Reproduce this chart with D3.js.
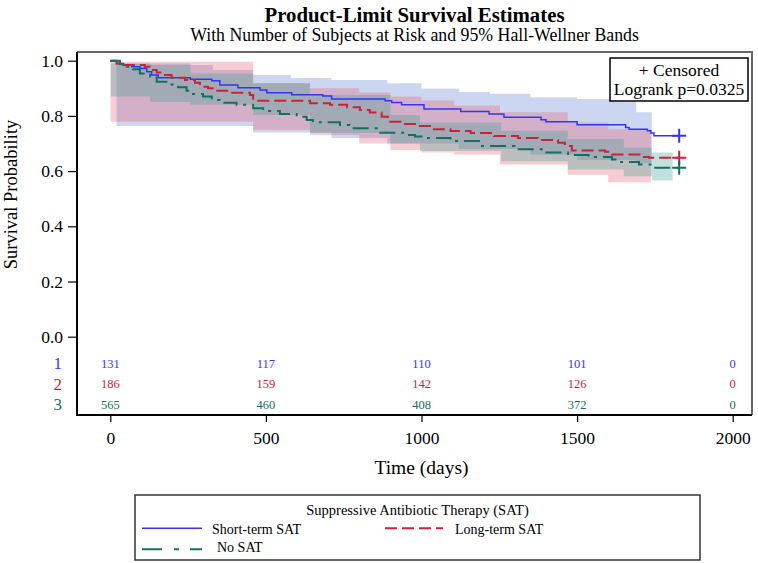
<!DOCTYPE html>
<html>
<head>
<meta charset="utf-8">
<script src="https://cdn.jsdelivr.net/npm/d3@7"></script>
<style>
  body { margin: 0; background: #fff; }
  svg { display: block; font-family: "Liberation Serif", "Times New Roman", serif; }
</style>
</head>
<body>
<div id="chart"></div>
<script>
'use strict';

// axis ticks and at-risk table
const tickX = [0, 500, 1000, 1500, 2000];
const tickY = [0, 0.2, 0.4, 0.6, 0.8, 1.0];
const riskTimes = [0, 500, 1000, 1500, 2000];
const riskShort = [131, 117, 110, 101, 0];
const riskLong = [186, 159, 142, 126, 0];
const riskNone = [565, 460, 408, 372, 0];

// Kaplan-Meier steps
const shortTime = [0, 20, 42, 69, 95, 117, 133, 154, 257, 326, 352, 410, 481, 503, 583, 683, 711, 883, 904, 936, 1008, 1126, 1217, 1265, 1384, 1400, 1500, 1656, 1667, 1726, 1737, 1747, 1828];
const shortSurv = [1, 0.99, 0.984, 0.978, 0.972, 0.96, 0.948, 0.938, 0.933, 0.927, 0.912, 0.902, 0.894, 0.884, 0.877, 0.872, 0.861, 0.855, 0.849, 0.84, 0.825, 0.816, 0.807, 0.795, 0.786, 0.779, 0.768, 0.758, 0.752, 0.746, 0.738, 0.728, 0.728];

const longTime = [0, 20, 41, 111, 128, 149, 165, 197, 240, 272, 288, 314, 336, 385, 449, 459, 642, 706, 761, 802, 834, 872, 892, 941, 979, 1027, 1093, 1158, 1233, 1310, 1374, 1439, 1461, 1483, 1590, 1612, 1709, 1731, 1828];
const longSurv = [1, 0.99, 0.984, 0.978, 0.966, 0.957, 0.948, 0.938, 0.93, 0.92, 0.906, 0.9, 0.891, 0.884, 0.876, 0.855, 0.846, 0.84, 0.831, 0.821, 0.812, 0.797, 0.779, 0.771, 0.763, 0.752, 0.745, 0.738, 0.727, 0.72, 0.713, 0.703, 0.691, 0.675, 0.67, 0.66, 0.651, 0.648, 0.648];

const noneTime = [0, 31, 53, 73, 95, 128, 149, 192, 218, 245, 266, 298, 326, 352, 406, 459, 491, 545, 599, 631, 651, 738, 770, 856, 941, 979, 1000, 1093, 1191, 1299, 1397, 1471, 1537, 1612, 1635, 1699, 1742, 1828];
const noneSurv = [1, 0.988, 0.978, 0.969, 0.954, 0.942, 0.924, 0.914, 0.904, 0.891, 0.879, 0.87, 0.858, 0.848, 0.84, 0.828, 0.818, 0.807, 0.797, 0.785, 0.777, 0.767, 0.755, 0.739, 0.731, 0.725, 0.72, 0.709, 0.691, 0.679, 0.667, 0.658, 0.651, 0.642, 0.633, 0.624, 0.612, 0.612];

// Hall-Wellner bands
const shortBandTime = [20, 257, 330, 459, 580, 711, 890, 1000, 1120, 1220, 1350, 1500, 1620, 1690, 1740];
const shortBandUpper = [0.99, 0.984, 0.966, 0.948, 0.937, 0.93, 0.918, 0.899, 0.887, 0.88, 0.868, 0.861, 0.85, 0.813, 0.813];
const shortBandLower = [0.763, 0.763, 0.763, 0.74, 0.74, 0.72, 0.7, 0.7, 0.68, 0.68, 0.66, 0.64, 0.64, 0.63, 0.63];

const longBandTime = [1, 459, 642, 800, 900, 1000, 1105, 1252, 1470, 1600, 1737];
const longBandUpper = [0.996, 0.918, 0.9, 0.885, 0.87, 0.856, 0.838, 0.813, 0.776, 0.752, 0.752];
const longBandLower = [0.779, 0.749, 0.731, 0.7, 0.676, 0.667, 0.66, 0.624, 0.587, 0.56, 0.56];

const noneBandTime = [1, 128, 257, 459, 642, 900, 995, 1256, 1470, 1650, 1740, 1807];
const noneBandUpper = [0.99, 0.984, 0.954, 0.918, 0.876, 0.803, 0.776, 0.746, 0.716, 0.685, 0.667, 0.667];
const noneBandLower = [0.87, 0.85, 0.84, 0.803, 0.738, 0.7, 0.673, 0.636, 0.606, 0.581, 0.566, 0.566];

const width = 758, height = 563;
const frame = {left: 77, right: 752, top: 52, bottom: 415};

const groups = [
  {label: "Short-term SAT", row: "1", color: "#3535f0", fill: "#5a78d0", dash: null, lw: 1.5,
   time: shortTime, surv: shortSurv, bt: shortBandTime, bu: shortBandUpper, bl: shortBandLower, risk: riskShort},
  {label: "Long-term SAT", row: "2", color: "#c8233a", fill: "#e05a6a", dash: "12,5", lw: 2,
   time: longTime, surv: longSurv, bt: longBandTime, bu: longBandUpper, bl: longBandLower, risk: riskLong},
  {label: "No SAT", row: "3", color: "#12705f", fill: "#2f9a8c", dash: "16,6,3,6", lw: 2,
   time: noneTime, surv: noneSurv, bt: noneBandTime, bu: noneBandUpper, bl: noneBandLower, risk: riskNone}
];

let svg = d3.select("#chart").append("svg")
    .attr("width", width)
    .attr("height", height)
    .attr("viewBox", `0 0 ${width} ${height}`);

let x = d3.scaleLinear().domain([0, 2000]).range([110.3, 732.7]);
let y = d3.scaleLinear().domain([0, 1]).range([336.7, 60.7]);

// titles
let midX = (frame.left + frame.right) / 2;
svg.append("text")
    .attr("x", midX).attr("y", 22)
    .attr("text-anchor", "middle")
    .style("font-size", "20.8px").style("font-weight", "bold")
    .text("Product-Limit Survival Estimates");
svg.append("text")
    .attr("x", midX).attr("y", 41)
    .attr("text-anchor", "middle")
    .style("font-size", "17.8px")
    .text("With Number of Subjects at Risk and 95% Hall-Wellner Bands");

// bands
let area = d3.area()
    .curve(d3.curveStepAfter)
    .x(d => x(d.t))
    .y0(d => y(d.lo))
    .y1(d => y(d.hi));

groups.forEach(g => {
  let pts = g.bt.map((t, i) => ({t: t, lo: g.bl[i], hi: g.bu[i]}));
  svg.append("path")
      .attr("d", area(pts))
      .attr("fill", g.fill)
      .attr("fill-opacity", 0.3);
});

// survival curves
let line = d3.line()
    .curve(d3.curveStepAfter)
    .x(d => x(d[0]))
    .y(d => y(d[1]));

groups.forEach(g => {
  svg.append("path")
      .attr("d", line(g.time.map((t, i) => [t, g.surv[i]])))
      .attr("fill", "none")
      .attr("stroke", g.color)
      .attr("stroke-width", g.lw)
      .attr("stroke-dasharray", g.dash);
});

// censor marks at end of follow-up
groups.forEach(g => {
  let n = g.time.length - 1;
  let cx = x(g.time[n]), cy = y(g.surv[n]);
  svg.append("path")
      .attr("d", `M${cx - 7},${cy}H${cx + 7}M${cx},${cy - 7}V${cy + 7}`)
      .attr("stroke", g.color)
      .attr("stroke-width", 2);
});

// frame
svg.append("path")
    .attr("d", `M${frame.left},${frame.top}H${frame.right}V${frame.bottom}`)
    .attr("fill", "none")
    .attr("stroke", "#666")
    .attr("stroke-width", 2);
svg.append("path")
    .attr("d", `M${frame.left},${frame.top}V${frame.bottom}H${frame.right}`)
    .attr("fill", "none")
    .attr("stroke", "#000")
    .attr("stroke-width", 2);

// y axis
svg.append("g")
    .attr("transform", `translate(${frame.left},0)`)
    .call(d3.axisLeft(y).tickValues(tickY).tickFormat(d3.format(".1f")).tickSize(9).tickPadding(5))
    .call(g => g.select(".domain").remove())
    .call(g => g.selectAll("line").attr("stroke", "#000").attr("stroke-width", 1.2))
    .call(g => g.selectAll("text").attr("fill", "#000")
        .style("font-size", "17.5px").style("font-family", "Liberation Serif, serif"));

// x axis
svg.append("g")
    .attr("transform", `translate(0,${frame.bottom})`)
    .call(d3.axisBottom(x).tickValues(tickX).tickFormat(d3.format("d")).tickSize(7).tickPadding(10))
    .call(g => g.select(".domain").remove())
    .call(g => g.selectAll("line").attr("stroke", "#000").attr("stroke-width", 1.2))
    .call(g => g.selectAll("text").attr("fill", "#000")
        .style("font-size", "17.5px").style("font-family", "Liberation Serif, serif"));

// axis labels
svg.append("text")
    .attr("transform", `translate(17,${(frame.top + 337) / 2}) rotate(-90)`)
    .attr("text-anchor", "middle")
    .style("font-size", "18.5px")
    .text("Survival Probability");
svg.append("text")
    .attr("x", x(1000)).attr("y", 474)
    .attr("text-anchor", "middle")
    .style("font-size", "19.5px")
    .text("Time (days)");

// at-risk table
const rowY = [363.5, 384, 404.5];
groups.forEach((g, gi) => {
  svg.append("text")
      .attr("x", 62).attr("y", rowY[gi])
      .attr("dy", "0.35em")
      .attr("text-anchor", "end")
      .attr("fill", g.color)
      .style("font-size", "17px")
      .text(g.row);
  svg.selectAll(null)
      .data(riskTimes)
      .join("text")
      .attr("x", d => x(d))
      .attr("y", rowY[gi])
      .attr("dy", "0.35em")
      .attr("text-anchor", "middle")
      .attr("fill", g.color)
      .style("font-size", "12.5px")
      .text((d, i) => g.risk[i]);
});

// censored / logrank box
svg.append("rect")
    .attr("x", 610).attr("y", 58).attr("width", 138).attr("height", 43)
    .attr("fill", "#fff").attr("stroke", "#000").attr("stroke-width", 1.5);
svg.append("text")
    .attr("x", 679).attr("y", 76)
    .attr("text-anchor", "middle")
    .style("font-size", "17.5px")
    .text("+ Censored");
svg.append("text")
    .attr("x", 679).attr("y", 94.5)
    .attr("text-anchor", "middle")
    .style("font-size", "17.5px")
    .text("Logrank p=0.0325");

// bottom legend
let lg = svg.append("g");
lg.append("rect")
    .attr("x", 135).attr("y", 495).attr("width", 565).attr("height", 65)
    .attr("fill", "none").attr("stroke", "#333").attr("stroke-width", 1.5);
lg.append("text")
    .attr("x", 417.5).attr("y", 514.5)
    .attr("text-anchor", "middle")
    .style("font-size", "14.5px")
    .text("Suppressive Antibiotic Therapy (SAT)");

const legendPos = [
  {x1: 142, x2: 202, ly: 528.3, tx: 212, ty: 534},
  {x1: 385, x2: 443, ly: 528.3, tx: 455, ty: 534},
  {x1: 142, x2: 202, ly: 549.3, tx: 217, ty: 551.5}
];
groups.forEach((g, gi) => {
  let p = legendPos[gi];
  lg.append("line")
      .attr("x1", p.x1).attr("x2", p.x2).attr("y1", p.ly).attr("y2", p.ly)
      .attr("stroke", g.color)
      .attr("stroke-width", g.lw)
      .attr("stroke-dasharray", gi == 2 ? "20,12,5,11" : g.dash);
  lg.append("text")
      .attr("x", p.tx).attr("y", p.ty)
      .style("font-size", "14px")
      .text(g.label);
});
</script>
</body>
</html>
